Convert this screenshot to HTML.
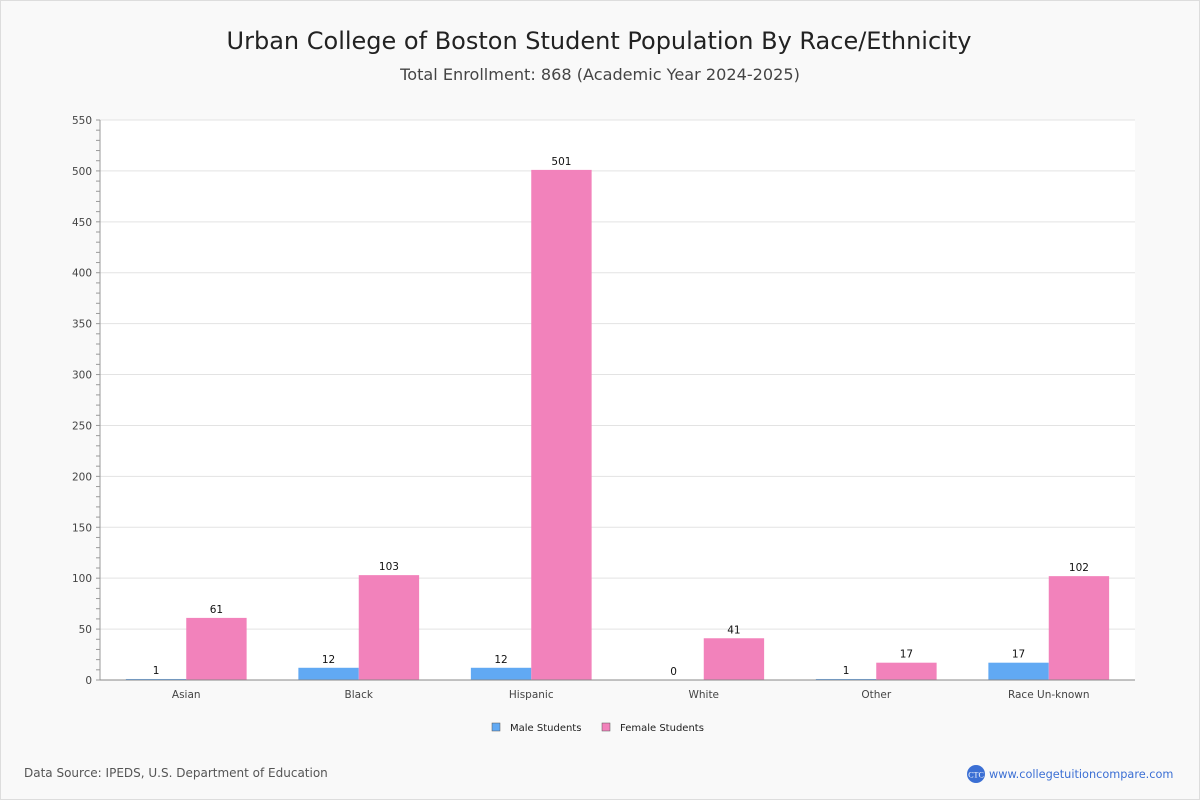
<!DOCTYPE html>
<html><head><meta charset="utf-8">
<style>
body{margin:0;background:#fff;}
#wrap{position:relative;width:1198px;height:798px;border:1px solid #ddd;background:#f9f9f9;font-family:"DejaVu Sans","Liberation Sans",sans-serif;}
svg{position:absolute;left:0;top:0;}
</style></head>
<body>
<div id="wrap">
<svg id="chart" width="1198" height="798"></svg>
</div>
<script>
const categories=["Asian","Black","Hispanic","White","Other","Race Un-known"];
const maleValues=[1,12,12,0,1,17];
const femaleValues=[61,103,501,41,17,102];
const yTicks=[0,50,100,150,200,250,300,350,400,450,500,550];
const seriesNames=["Male Students","Female Students"];

const NS="http://www.w3.org/2000/svg";
const svg=document.getElementById('chart');
const X0=99,X1=1134,Y0=679,Y1=119,YMAX=550;
function y(v){return Y0-(v/YMAX)*(Y0-Y1);}
const gw=(X1-X0)/categories.length;
function gx(i){return X0+gw*i;}
function el(tag,attrs,text){const e=document.createElementNS(NS,tag);for(const k in attrs)e.setAttribute(k,attrs[k]);if(text!==undefined)e.textContent=text;svg.appendChild(e);return e;}

let t=el('text',{x:598,y:48,'text-anchor':'middle','font-size':24,fill:'#222'},'Urban College of Boston Student Population By Race/Ethnicity');


t=el('text',{x:599,y:79,'text-anchor':'middle','font-size':16.1,fill:'#444'},'Total Enrollment: 868 (Academic Year 2024-2025)');



let bg=el('rect',{x:X0,y:Y1,width:X1-X0,height:Y0-Y1,fill:'#fff'});



for(let v=0;v<=YMAX;v+=10){
  const m=el('line',{x1:X0-4,x2:X0,y1:y(v),y2:y(v),stroke:'#999','stroke-width':1});
  
  
}
yTicks.forEach(v=>{
  const g=el('line',{x1:X0,x2:X1,y1:y(v),y2:y(v),stroke:'#e3e3e3','stroke-width':1});
  
  
  const l=el('text',{x:X0-8,y:y(v)+4,'text-anchor':'end','font-size':10.5,fill:'#444'},String(v));
  
  
});
let ax=el('line',{x1:X0,x2:X0,y1:Y1,y2:Y0,stroke:'#999'});



const bw=gw*0.35;
categories.forEach((c,i)=>{
  const cx=gx(i)+gw/2;
  const mv=maleValues[i],fv=femaleValues[i];
  const mb=el('rect',{x:cx-bw,y:y(mv),width:bw,height:Y0-y(mv),fill:'#61a9f3'});
  
  
  const fb=el('rect',{x:cx,y:y(fv),width:bw,height:Y0-y(fv),fill:'#f282bb'});
  
  
  const ml=el('text',{x:cx-bw/2,y:y(mv)-5,'text-anchor':'middle','font-size':10.5,fill:'#111'},String(mv));
  
  
  const fl=el('text',{x:cx+bw/2,y:y(fv)-5,'text-anchor':'middle','font-size':10.5,fill:'#111'},String(fv));
  
  
  const xl=el('text',{x:cx,y:697,'text-anchor':'middle','font-size':10.5,fill:'#444'},c);
  
  
});
let xa=el('line',{x1:X0,x2:X1,y1:Y0,y2:Y0,stroke:'#888'});



const legColors=['#61a9f3','#f282bb'];const legX=[491,601];
seriesNames.forEach((n,i)=>{
  const r=el('rect',{x:legX[i],y:722,width:8,height:8,fill:legColors[i],stroke:'#555','stroke-width':0.5});
  
  
  const lt=el('text',{x:legX[i]+18,y:730,'font-size':10,fill:'#222'},n);
  
  
});

let src=el('text',{x:23,y:776,'font-size':12,fill:'#555'},'Data Source: IPEDS, U.S. Department of Education');


let lc=el('circle',{cx:975,cy:773,r:9,fill:'#3b6fd4'});


let lct=el('text',{x:975,y:776.5,'text-anchor':'middle','font-size':8,fill:'#fff','font-family':'Liberation Serif'},'CTC');


let url=el('text',{x:988,y:777,'font-size':11.3,fill:'#3b6fd4'},'www.collegetuitioncompare.com');


</script>
</body></html>
